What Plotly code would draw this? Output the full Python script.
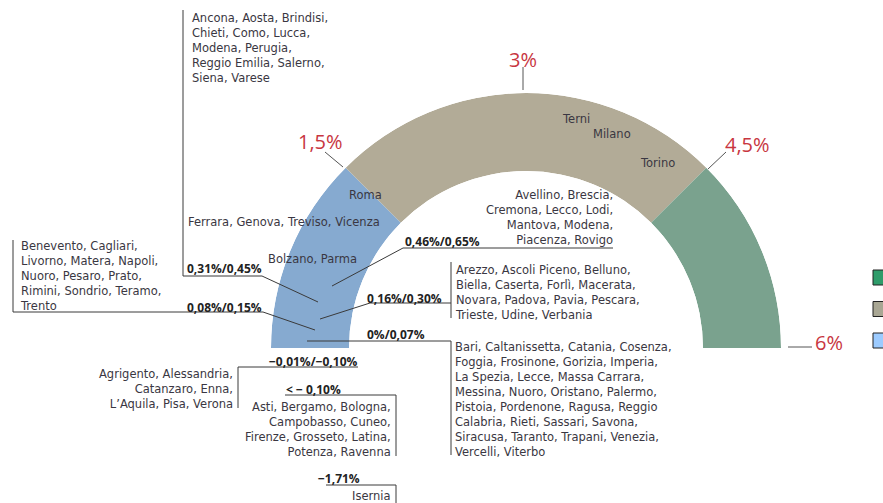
import plotly.graph_objects as go

# gauge scale (percent) and its segments
SCALE_MAX = 6
seg_start = [0, 1.5, 4.5]
seg_end = [1.5, 4.5, 6]
seg_colors = ['#86aad0', '#b2ab97', '#7aa28e']

tick_values = [1.5, 3, 4.5, 6]
tick_labels = ['1,5%', '3%', '4,5%', '6%']

legend_colors = ['#2e9c6a', '#a9a794', '#9ccbff']

# city groups by range
cities_top = ['Ancona, Aosta, Brindisi,', 'Chieti, Como, Lucca,', 'Modena, Perugia,',
              'Reggio Emilia, Salerno,', 'Siena, Varese']
cities_left = ['Benevento, Cagliari,', 'Livorno, Matera, Napoli,', 'Nuoro, Pesaro, Prato,',
               'Rimini, Sondrio, Teramo,', 'Trento']
cities_046 = ['Avellino, Brescia,', 'Cremona, Lecco, Lodi,', 'Mantova, Modena,', 'Piacenza, Rovigo']
cities_016 = ['Arezzo, Ascoli Piceno, Belluno,', 'Biella, Caserta, Forlì, Macerata,',
              'Novara, Padova, Pavia, Pescara,', 'Trieste, Udine, Verbania']
cities_000 = ['Bari, Caltanissetta, Catania, Cosenza,', 'Foggia, Frosinone, Gorizia, Imperia,',
              'La Spezia, Lecce, Massa Carrara,', 'Messina, Nuoro, Oristano, Palermo,',
              'Pistoia, Pordenone, Ragusa, Reggio', 'Calabria, Rieti, Sassari, Savona,',
              'Siracusa, Taranto, Trapani, Venezia,', 'Vercelli, Viterbo']
cities_neg001 = ['Agrigento, Alessandria,', 'Catanzaro, Enna,', 'L’Aquila, Pisa, Verona']
cities_neg010 = ['Asti, Bergamo, Bologna,', 'Campobasso, Cuneo,', 'Firenze, Grosseto, Latina,',
                 'Potenza, Ravenna']
cities_neg171 = ['Isernia']

range_labels = ['0,31%/0,45%', '0,08%/0,15%', '0,46%/0,65%', '0,16%/0,30%', '0%/0,07%',
                '−0,01%/−0,10%', '< − 0,10%', '−1,71%']

FONT = 'DejaVu Sans'
LBL_FONT = 'Open Sans'
TXT = '#3a3742'
RED = '#c8363f'
SIZE = 11.5

fig = go.Figure()

deg = [180 / SCALE_MAX * ((a + b) / 2) for a, b in zip(seg_start, seg_end)]
span = [180 / SCALE_MAX * (b - a) for a, b in zip(seg_start, seg_end)]
fig.add_trace(go.Barpolar(r=[1] * 3, theta=deg, width=span, marker_color=seg_colors,
                          marker_line_width=0, hoverinfo='skip', showlegend=False))

fig.update_layout(
    width=883, height=503,
    margin=dict(l=0, r=0, t=0, b=0),
    paper_bgcolor='white', plot_bgcolor='rgba(0,0,0,0)',
    showlegend=False,
    xaxis=dict(range=[0, 883], visible=False, fixedrange=True),
    yaxis=dict(range=[503, 0], visible=False, fixedrange=True),
    polar=dict(
        domain=dict(x=[271 / 883, 781 / 883], y=[155 / 503, 410 / 503]),
        sector=[0, 180], hole=0.694, bgcolor='rgba(0,0,0,0)',
        radialaxis=dict(visible=False, range=[0, 1]),
        angularaxis=dict(visible=False, rotation=180, direction='clockwise'),
    ),
    font=dict(family=FONT, color=TXT),
)


def line(pts, color='#3a3a3a', width=1):
    path = 'M ' + ' L '.join(f'{x},{y}' for x, y in pts)
    fig.add_shape(type='path', path=path, xref='x', yref='y',
                  line=dict(color=color, width=width), layer='above')


def text(x, y, lines, anchor='left', size=SIZE, color=TXT, family=FONT, bold=False):
    # y is the middle of the first line
    t = '<br>'.join(lines) if isinstance(lines, list) else lines
    if bold:
        t = '<b>' + t + '</b>'
    fig.add_annotation(x=x, y=y - size * 0.65 - 1, xref='x', yref='y', text=t,
                       showarrow=False, xanchor=anchor, yanchor='top', align=anchor,
                       font=dict(family=family, size=size, color=color))


def label(x, y, s, anchor='left'):
    text(x, y, s, anchor, 12, '#222', LBL_FONT, True)


# scale tick labels
for (x, y), s in zip([(320, 140), (523, 58), (747, 143), (829, 341)], tick_labels):
    text(x, y, s, 'center', 20, RED, LBL_FONT)
line([(325, 152), (343, 167)], '#555')
line([(523, 67), (523, 90)], '#555')
line([(726, 152), (708, 169)], '#555')
line([(788, 347), (812, 347)], '#555')

# labels inside the gauge
text(365, 194, 'Roma', 'center')
text(576, 118, 'Terni', 'center')
text(612, 133, 'Milano', 'center')
text(657, 162, 'Torino', 'center')
text(186, 221, 'Ferrara, Genova, Treviso, Vicenza')
text(266, 258, 'Bolzano, Parma')

# 0,31%/0,45% with the top list
text(190, 17, cities_top)
label(185, 267, range_labels[0])
line([(183, 10), (183, 276), (262, 276), (318, 302)])

# 0,08%/0,15% with the left list
text(18, 245, cities_left)
label(185, 306, range_labels[1])
line([(13, 240), (13, 312), (263, 312), (315, 330)])

# 0,46%/0,65%
text(615, 194, cities_046, 'right')
label(403, 240, range_labels[2])
line([(613, 248), (403, 248), (332, 286)])

# 0,16%/0,30%
text(453, 269, cities_016)
label(365, 297, range_labels[3])
line([(320, 319), (370, 303), (451, 303)])
line([(451, 262), (451, 318)])

# 0%/0,07%
label(365, 333, range_labels[4])
text(453, 346, cities_000)
line([(307, 341), (451, 341), (451, 455)])

# −0,01%/−0,10%
label(360, 360, range_labels[5], 'right')
text(235, 373, cities_neg001, 'right')
line([(358, 367), (238, 367), (238, 408)])

# < −0,10%
label(284, 388, range_labels[6])
text(393, 406, cities_neg010, 'right')
line([(285, 395), (396, 395), (396, 456)])

# −1,71%
label(362, 477, range_labels[7], 'right')
text(393, 495, cities_neg171, 'right')
line([(326, 485), (396, 485), (396, 503)])

# legend boxes (cut at the right edge)
for i, c in enumerate(legend_colors):
    y0 = 270 + i * 31.5
    fig.add_shape(type='rect', xref='x', yref='y', x0=873, x1=892, y0=y0, y1=y0 + 15,
                  fillcolor=c, line=dict(color='#222', width=1), layer='above')

fig.write_html('out.html', config={'displayModeBar': False},
               post_script="document.body.style.margin='0px';")
